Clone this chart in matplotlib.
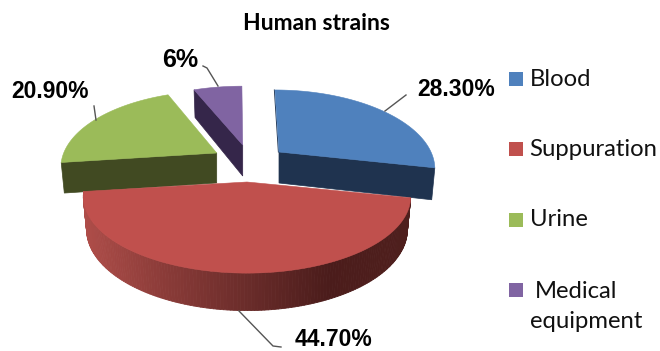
import numpy as np
import matplotlib
matplotlib.use("Agg")
import matplotlib.pyplot as plt
from matplotlib.colors import LinearSegmentedColormap
from matplotlib.collections import PolyCollection
from matplotlib.patches import Polygon, Rectangle

# Data
categories = ["Blood", "Suppuration", "Urine", "Medical\nequipment"]
shares = [28.3, 44.7, 20.9, 6.0]
share_labels = ["28.30%", "44.70%", "20.90%", "6%"]
colors = ["#4F81BD", "#C0504D", "#9BBB59", "#8064A2"]
cut_colors = ["#1F334F", "#4A1E1C", "#414A22", "#35264A"]

# Per-slice placement of the exploded pie: apex x, apex y, x radius, y factor,
# thickness at the apex, lean of the vertical direction
placement = [
    (279.0, 152.0, 152.0, 73.8, 31.0, 0.065),
    (247.0, 182.0, 160.7, 73.8, 32.0, 0.0),
    (216.7, 153.0, 153.0, 73.8, 30.0, 0.0),
    (242.7, 145.0, 153.0, 70.0, 31.0, 0.0),
]
PERSPECTIVE = 0.19

fig = plt.figure(figsize=(6.6, 3.51), dpi=100)
ax = fig.add_axes([0, 0, 1, 1])
ax.set_xlim(0, 660)
ax.set_ylim(351, 0)
ax.axis("off")

# Cumulative slice angles, clockwise from twelve o'clock
edges = np.radians(np.cumsum([0.0] + shares) * 3.6)


def top_point(t, r, place):
    """Project a pie point (angle t, radius r) on to the sloped top face."""
    x0, y0, a, k, _, lean = place
    X, Y = r * np.sin(t), r * np.cos(t)
    den = 1 + PERSPECTIVE * Y
    dy = -k * Y / den
    return x0 + a * X / den + lean * dy, y0 + dy


def bottom_point(t, r, place):
    """Matching point on the lower face of the slice."""
    x, y = top_point(t, r, place)
    x0, y0, _, _, depth, _ = place
    return x0 + (x - x0) * 0.98, y + depth + 0.06 * (y - y0)


wall_map = LinearSegmentedColormap.from_list(
    "wall", ["#AE4D49", "#8A3B38", "#6A2C2A", "#4B1C1B", "#4F1F1D"]
)


def draw_slice(i, zorder):
    place = placement[i]
    t0, t1 = edges[i], edges[i + 1]
    arc = np.linspace(t0, t1, 160)

    if i == 1:
        # Curved outer wall, shaded from left to right
        tops = np.array([top_point(t, 1, place) for t in arc])
        bots = np.array([bottom_point(t, 1, place) for t in arc])
        quads = [
            [tops[j], tops[j + 1], bots[j + 1], bots[j]] for j in range(len(arc) - 1)
        ]
        mid_x = (tops[:-1, 0] + tops[1:, 0]) / 2
        shade = wall_map((mid_x - mid_x.min()) / (mid_x.max() - mid_x.min()))
        ax.add_collection(
            PolyCollection(quads, facecolors=shade, edgecolors=shade, linewidths=0.6, zorder=zorder)
        )
    else:
        # Cut face exposed by pulling the slice away from the centre
        t_cut = {0: t1, 2: t0, 3: t0}[i]
        face = [
            top_point(t_cut, 0, place),
            top_point(t_cut, 1, place),
            bottom_point(t_cut, 1, place),
            bottom_point(t_cut, 0, place),
        ]
        ax.add_patch(Polygon(face, closed=True, fc=cut_colors[i], ec=cut_colors[i], lw=0.5, zorder=zorder))

    outline = [top_point(t0, 0, place)] + [top_point(t, 1, place) for t in arc]
    ax.add_patch(Polygon(outline, closed=True, fc=colors[i], ec=colors[i], lw=0.4, zorder=zorder + 0.1))


for order, idx in enumerate([3, 2, 0, 1]):
    draw_slice(idx, 2 + order)

# Thin dark edge along the left side of the blue slice
p_a, p_b = top_point(edges[0], 0, placement[0]), top_point(edges[0], 1, placement[0])
ax.plot([p_a[0] - 0.6, p_b[0] - 0.6], [p_a[1], p_b[1]], color="#1F334F", lw=0.7, zorder=3)

# Leader lines
leaders = [
    ([385, 406], [111, 95]),
    ([239, 273, 281], [311, 346, 347]),
    ([94, 96], [106, 120]),
    ([203, 207, 218], [66, 68, 86]),
]
for xs, ys in leaders:
    ax.plot(xs, ys, color="#555555", lw=1.0, zorder=8)

# Value labels
label_pos = [(417, 89), (295, 340), (11, 92), (162, 60)]
label_size = [16.5, 16.5, 16.5, 18]
for text, (x, y), size in zip(share_labels, label_pos, label_size):
    ax.text(x, y, text, family="Liberation Sans", weight="bold", fontsize=size,
            color="black", va="center", ha="left", zorder=9)

ax.text(316.5, 23.5, "Human strains", family="Lato", weight="bold", fontsize=16.5,
        color="black", va="center", ha="center")

# Legend
swatch_y = [72, 142, 213, 283]
text_rows = [[(530, 79.5, "Blood")], [(529, 150, "Suppuration")], [(530, 220, "Urine")],
             [(535, 291, categories[3].split("\n")[0]), (530, 322, categories[3].split("\n")[1])]]
for color, sy, rows in zip(colors, swatch_y, text_rows):
    ax.add_patch(Rectangle((509, sy), 14, 13.5, fc=color, ec="none"))
    for x, y, text in rows:
        ax.text(x, y, text, family="Lato", fontsize=17.2, color="#111111", va="center", ha="left")

fig.savefig("out.png", dpi=100)
